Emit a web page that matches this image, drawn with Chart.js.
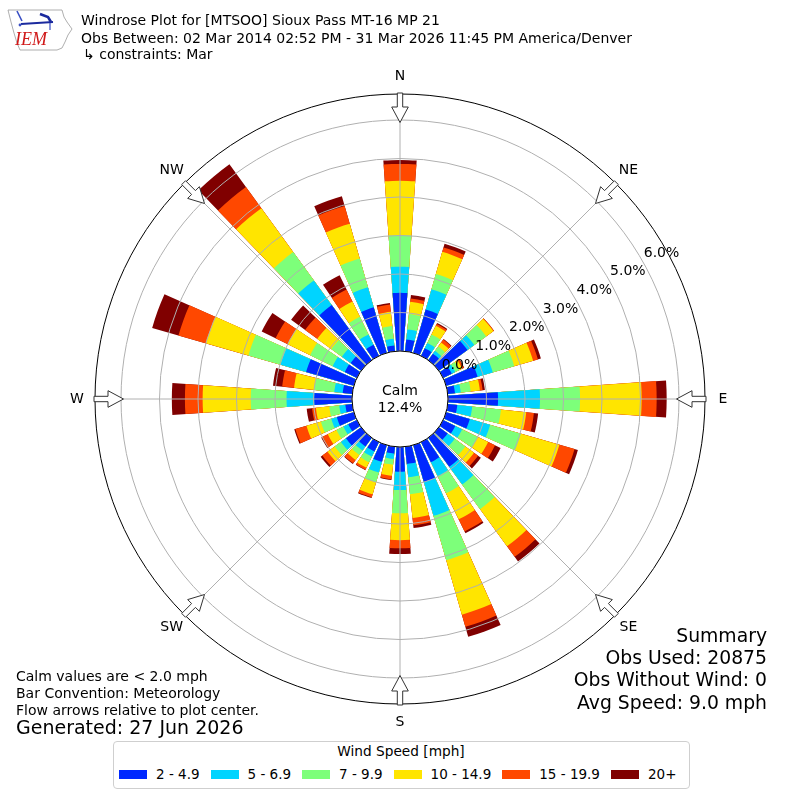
<!DOCTYPE html>
<html>
<head>
<meta charset="utf-8">
<script src="https://cdn.jsdelivr.net/npm/chart.js@4.4.1/dist/chart.umd.min.js"></script>
<style>
  body { margin: 0; background: #fff; }
  #wrap { position: relative; width: 800px; height: 800px; font-family: 'DejaVu Sans', sans-serif; color: #000; }
  #wrap canvas { position: absolute; left: 0; top: 0; }
  .txt { position: absolute; white-space: pre; line-height: 1; }
  #legend { position: absolute; left: 113px; top: 741px; width: 575px; height: 46px;
            border: 1px solid #cfcfcf; border-radius: 4px; background: #fff; }
  .patch { position: absolute; width: 28px; height: 9px; }
</style>
</head>
<body>
<div id="wrap">
  <canvas id="rose" width="800" height="800"></canvas>
  <svg style="position:absolute;left:0;top:0" width="80" height="55">
    <path d="M8,10 L62,10 L64,17 L67,22 L72,29 L68,35 L65,42 L62,48 L57,50 L20,50 L17,43 L14,33 L11,22 Z"
          fill="none" stroke="#9a9a9a" stroke-width="0.8"/>
    <path d="M17,11 L22,21" stroke="#3a4fc4" stroke-width="1.6" fill="none"/>
    <path d="M21,24 L53,22" stroke="#1b2a9e" stroke-width="2" fill="none"/>
    <path d="M40,14 L48,17 L51,22" stroke="#1b2a9e" stroke-width="2.6" fill="none"/>
    <path d="M50,23 L50,30" stroke="#3a4fc4" stroke-width="1.2" fill="none"/>
    <circle cx="20" cy="25" r="1.4" fill="#3a4fc4"/>
    <text x="15" y="45" font-family="Liberation Serif" font-style="italic" font-size="18" fill="#d01818">IEM</text>
  </svg>
  <div id="legend"></div>
</div>
<script>
// wind direction bins (degrees, meteorological) and speed bins
const directions = [0, 10, 20, 30, 40, 50, 60, 70, 80, 90, 100, 110, 120, 130, 140, 150, 160, 170,
                    180, 190, 200, 210, 220, 230, 240, 250, 260, 270, 280, 290, 300, 310, 320, 330, 340, 350];
const speedBins = ['2 - 4.9', '5 - 6.9', '7 - 9.9', '10 - 14.9', '15 - 19.9', '20+'];
const binColors = ['#0028ff', '#00d4ff', '#7dff7a', '#ffe500', '#ff4800', '#800000'];
const compassLabels = ['N', 'NE', 'E', 'SE', 'S', 'SW', 'W', 'NW'];
const ringTicks = [0, 1, 2, 3, 4, 5, 6];
const calmPercent = 12.4;

// frequency (%) per direction for each speed bin
const bin2to5   = [1.51,0.31,1.17,0.22,0.21,0.92,0.25,0.85,0.19,1.30,0.25,0.64,0.35,0.28,0.93,0.58,0.99,0.45,
                   0.64,0.18,0.45,0.27,0.28,0.49,0.25,0.46,0.18,0.98,0.25,1.29,0.35,0.34,1.77,0.32,1.23,0.15];
const bin5to7   = [0.68,0.26,0.55,0.15,0.09,0.22,0.10,0.41,0.15,1.09,0.39,0.55,0.20,0.23,0.57,0.40,0.92,0.35,
                   0.48,0.14,0.29,0.15,0.13,0.16,0.14,0.15,0.16,0.72,0.22,0.69,0.35,0.28,0.79,0.30,0.54,0.18];
const bin7to10  = [0.82,0.40,0.41,0.25,0.14,0.38,0.12,0.58,0.26,1.04,0.75,0.83,0.45,0.34,0.79,0.50,1.20,0.44,
                   0.60,0.15,0.26,0.16,0.14,0.20,0.20,0.28,0.26,0.93,0.52,0.87,0.65,0.34,0.91,0.51,0.78,0.33];
const bin10to15 = [1.41,0.32,0.60,0.25,0.13,0.23,0.08,0.51,0.24,1.60,0.66,1.04,0.30,0.28,1.19,0.75,1.47,0.62,
                   0.70,0.29,0.33,0.16,0.16,0.23,0.25,0.39,0.35,1.25,0.53,1.15,0.65,0.45,1.41,0.44,0.94,0.37];
const bin15to20 = [0.44,0.09,0.12,0.05,0.09,0.02,0.05,0.13,0.07,0.39,0.20,0.41,0.20,0.13,0.34,0.35,0.33,0.19,
                   0.21,0.09,0.08,0.06,0.11,0.17,0.17,0.30,0.10,0.46,0.31,0.74,0.35,0.39,0.68,0.35,0.48,0.19];
const bin20plus = [0.10,0.09,0.10,0.03,0.02,0.00,0.01,0.08,0.06,0.26,0.11,0.09,0.16,0.09,0.15,0.05,0.27,0.07,
                   0.15,0.02,0.02,0.01,0.02,0.05,0.02,0.03,0.14,0.34,0.24,0.71,0.40,0.45,0.73,0.41,0.26,0.04];

const speedSeries = [bin2to5, bin5to7, bin7to10, bin10to15, bin15to20, bin20plus];

// radial scale: 0% sits on the calm circle, 1% = 38.5px, outer ring at 305px
const rMin = -48 / 38.5;
const rMax = 257 / 38.5;

// arc sequence: each bar 8 deg wide, 2 deg gap; north bar split in two halves so the
// scale can start at 0 deg and its angle lines land on the compass points
const BAR = 8, GAP = 2;
const elems = [{ dir: 0, angle: BAR / 2 }];
for (let k = 1; k < directions.length; k++) {
  elems.push({ dir: null, angle: GAP });
  elems.push({ dir: k, angle: BAR });
}
elems.push({ dir: null, angle: GAP });
elems.push({ dir: 0, angle: BAR / 2 });

// stacked = cumulative totals, drawn largest first so smaller ones sit on top
const cumulative = speedSeries.map((_, s) =>
  directions.map((d, i) => speedSeries.slice(0, s + 1).reduce((acc, arr) => acc + arr[i], 0)));

const datasets = speedBins.map((label, s) => ({
  label,
  data: elems.map(e => e.dir === null ? 0 : cumulative[s][e.dir]),
  backgroundColor: ctx => elems[ctx.dataIndex].dir === null ? 'rgba(0,0,0,0)' : binColors[s],
  angle: ctx => elems[ctx.dataIndex].angle,
  borderWidth: 0
}));

const roseDecor = {
  id: 'roseDecor',
  afterDraw(chart) {
    const r = chart.scales.r;
    const ctx = chart.ctx;
    const cx = r.xCenter, cy = r.yCenter;
    const rad = v => r.getDistanceFromCenterForValue(v);
    const R = rad(rMax);
    ctx.save();

    // calm circle
    ctx.beginPath();
    ctx.arc(cx, cy, rad(0), 0, Math.PI * 2);
    ctx.fillStyle = '#fff';
    ctx.fill();
    ctx.lineWidth = 1;
    ctx.strokeStyle = '#000';
    ctx.stroke();
    ctx.fillStyle = '#000';
    ctx.font = '14px "DejaVu Sans"';
    ctx.textAlign = 'center';
    ctx.textBaseline = 'alphabetic';
    ctx.fillText('Calm', cx, cy - 4);
    ctx.fillText(calmPercent.toFixed(1) + '%', cx, cy + 13);

    // ring labels
    const la = 61 * Math.PI / 180;
    ctx.textBaseline = 'middle';
    ringTicks.forEach(t => {
      const d = rad(t) + 20;
      ctx.fillText(t.toFixed(1) + '%', cx + d * Math.sin(la), cy - d * Math.cos(la) - 1);
    });

    // compass arrows + labels
    compassLabels.forEach((lab, i) => {
      const th = i * 45 * Math.PI / 180;
      const s = Math.sin(th), c = Math.cos(th);
      const pt = (u, v) => [cx + u * s + v * c, cy - u * c + v * s];
      const pts = [[R + 1, -2.7], [R - 13, -2.7], [R - 13, -8.3], [R - 28.5, 0],
                   [R - 13, 8.3], [R - 13, 2.7], [R + 1, 2.7]].map(p => pt(p[0], p[1]));
      ctx.beginPath();
      pts.forEach((p, k) => k ? ctx.lineTo(p[0], p[1]) : ctx.moveTo(p[0], p[1]));
      ctx.closePath();
      ctx.fillStyle = '#fff';
      ctx.fill();
      ctx.strokeStyle = '#333';
      ctx.lineWidth = 1;
      ctx.stroke();
      const lp = pt(R + 18, 0);
      ctx.fillStyle = '#000';
      ctx.fillText(lab, lp[0], lp[1]);
    });
    ctx.restore();
  }
};

new Chart(document.getElementById('rose'), {
  type: 'polarArea',
  data: { labels: compassLabels, datasets },
  options: {
    responsive: false,
    animation: false,
    layout: { padding: { left: 95, right: 95, top: 94, bottom: 96 } },
    plugins: { legend: { display: false }, tooltip: { enabled: false } },
    scales: {
      r: {
        min: rMin,
        max: rMax,
        startAngle: 0,
        ticks: { display: false, stepSize: 1 },
        pointLabels: { display: false },
        angleLines: { display: true, color: '#b0b0b0', lineWidth: 1 },
        grid: {
          circular: true,
          z: 1,
          lineWidth: 1,
          color: ctx => (ctx.tick && ctx.tick.value > 6.5) ? '#000' : '#b0b0b0'
        }
      }
    }
  },
  plugins: [roseDecor]
});

// page text
const wrap = document.getElementById('wrap');
function addText(str, x, baseline, size, align, parent) {
  const d = document.createElement('div');
  d.className = 'txt';
  d.textContent = str;
  d.style.fontSize = size + 'px';
  d.style.top = (baseline - 0.846 * size) + 'px';
  if (align === 'right') d.style.right = (800 - x) + 'px';
  else if (align === 'center') { d.style.left = x + 'px'; d.style.transform = 'translateX(-50%)'; }
  else d.style.left = x + 'px';
  (parent || wrap).appendChild(d);
  return d;
}
addText('Windrose Plot for [MTSOO] Sioux Pass MT-16 MP 21', 81, 24.5, 14);
addText('Obs Between: 02 Mar 2014 02:52 PM - 31 Mar 2026 11:45 PM America/Denver', 81, 43, 14);
addText('\u21b3 constraints: Mar', 83, 58.5, 14);

addText('Calm values are < 2.0 mph', 16, 681, 14);
addText('Bar Convention: Meteorology', 16, 698, 14);
addText('Flow arrows relative to plot center.', 16, 715, 14);
addText('Generated: 27 Jun 2026', 16, 734, 19);

addText('Summary', 767, 643, 18.8, 'right');
addText('Obs Used: 20875', 767, 665, 18.8, 'right');
addText('Obs Without Wind: 0', 767, 687, 18.8, 'right');
addText('Avg Speed: 9.0 mph', 767, 710, 18.8, 'right');

// legend (box origin 113,741 + 1px border)
const legend = document.getElementById('legend');
addText('Wind Speed [mph]', 287, 757 - 742, 13.7, 'center', legend);
let lx = 119 - 114;
speedBins.forEach((lab, s) => {
  const p = document.createElement('div');
  p.className = 'patch';
  p.style.left = lx + 'px';
  p.style.top = (770 - 742) + 'px';
  p.style.background = binColors[s];
  legend.appendChild(p);
  const t = addText(lab, lx + 37, 779 - 742, 13.5, 'left', legend);
  lx += 37 + t.getBoundingClientRect().width + 11;
});
</script>
</body>
</html>
